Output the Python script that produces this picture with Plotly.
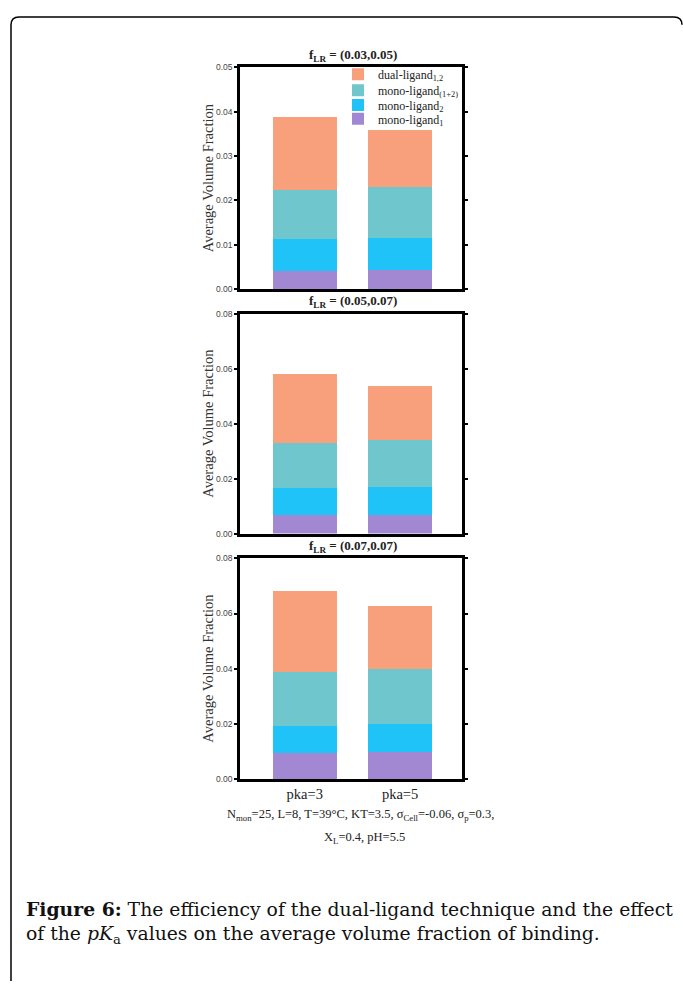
import plotly.graph_objects as go

# Bar categories
categories = ["pka=3", "pka=5"]

# Segment heights of each stacked bar (one list per ligand class, per panel)
panel_titles = [
    "f<sub>LR</sub> = (0.03,0.05)",
    "f<sub>LR</sub> = (0.05,0.07)",
    "f<sub>LR</sub> = (0.07,0.07)",
]
mono1 = [[0.0041, 0.0043], [0.0066, 0.0068], [0.0095, 0.0098]]
mono2 = [[0.0071, 0.0072], [0.0099, 0.0103], [0.0099, 0.0101]]
mono12 = [[0.0111, 0.0115], [0.0166, 0.0170], [0.0193, 0.0200]]
dual = [[0.0166, 0.0129], [0.0251, 0.0197], [0.0293, 0.0229]]

y_max = [0.05, 0.08, 0.08]
y_step = [0.01, 0.02, 0.02]

series_names = [
    "mono-ligand<sub>1</sub>",
    "mono-ligand<sub>2</sub>",
    "mono-ligand<sub>(1+2)</sub>",
    "dual-ligand<sub>1,2</sub>",
]
series_colors = ["#A288D2", "#1FC3F8", "#6FC6CC", "#F7A07B"]
series_data = [mono1, mono2, mono12, dual]

W, H = 683, 986
SERIF = "Liberation Serif, Times New Roman, serif"
CAPTION_SERIF = "DejaVu Serif, Liberation Serif, serif"
SANS = "Liberation Sans, Arial, sans-serif"


def px_x(x):
    return x / W


def px_y(y):
    return 1 - y / H


# Panel geometry in pixels (top, bottom) and shared left/right
panel_px = [(63, 287), (312, 534), (559, 782)]
left_px, right_px = 240, 462

# One single-entry legend per series so the key rows can sit tightly
legend_ids = ["legend4", "legend3", "legend2", "legend"]
legend_rows_px = [115, 101, 86, 70]

fig = go.Figure()

for p in range(3):
    xa = "x" if p == 0 else f"x{p + 1}"
    ya = "y" if p == 0 else f"y{p + 1}"
    for s in range(4):
        fig.add_trace(
            go.Bar(
                x=categories,
                y=series_data[s][p],
                name=series_names[s],
                marker=dict(color=series_colors[s], line=dict(width=0)),
                width=0.67,
                xaxis=xa,
                yaxis=ya,
                showlegend=(p == 0),
                legend=legend_ids[s],
            )
        )

layout = dict(
    width=W,
    height=H,
    margin=dict(l=0, r=0, t=0, b=0),
    paper_bgcolor="white",
    plot_bgcolor="white",
    barmode="stack",
    bargap=0.3,
    showlegend=True,
)

for s in range(4):
    layout[legend_ids[s]] = dict(
        x=px_x(338),
        y=px_y(legend_rows_px[s]),
        xanchor="left",
        yanchor="middle",
        bgcolor="rgba(0,0,0,0)",
        font=dict(family=SERIF, size=12, color="#222"),
        itemwidth=30,
    )

annotations = []
for p in range(3):
    top, bot = panel_px[p]
    xkey = "xaxis" if p == 0 else f"xaxis{p + 1}"
    ykey = "yaxis" if p == 0 else f"yaxis{p + 1}"
    anchor_x = "x" if p == 0 else f"x{p + 1}"
    anchor_y = "y" if p == 0 else f"y{p + 1}"
    layout[xkey] = dict(
        domain=[px_x(left_px), px_x(right_px)],
        anchor=anchor_y,
        range=[-0.68, 1.65],
        showline=True,
        linecolor="black",
        linewidth=2.5,
        mirror=True,
        showgrid=False,
        zeroline=False,
        ticks="",
        showticklabels=(p == 2),
        tickfont=dict(family=SERIF, size=14.5, color="#222"),
        fixedrange=True,
    )
    layout[ykey] = dict(
        domain=[px_y(bot), px_y(top)],
        anchor=anchor_x,
        range=[0, y_max[p]],
        dtick=y_step[p],
        tick0=0,
        tickformat=".2f",
        showline=True,
        linecolor="black",
        linewidth=2.5,
        mirror="ticks",
        showgrid=False,
        zeroline=False,
        ticks="outside",
        ticklen=3,
        tickwidth=1.5,
        tickcolor="black",
        tickfont=dict(family=SANS, size=8.5, color="#444"),
        fixedrange=True,
    )
    # Panel title
    annotations.append(dict(
        text="<b>" + panel_titles[p] + "</b>",
        x=px_x(353), y=px_y(top - 12),
        xref="paper", yref="paper",
        xanchor="center", yanchor="middle",
        showarrow=False,
        font=dict(family=SERIF, size=13, color="#222"),
    ))
    # Y-axis title
    annotations.append(dict(
        text="Average Volume Fraction",
        x=px_x(208), y=px_y((top + bot) / 2),
        xref="paper", yref="paper",
        xanchor="center", yanchor="middle",
        textangle=-90,
        showarrow=False,
        font=dict(family=SERIF, size=14.5, color="#333"),
    ))

# Simulation parameters beneath the panels
annotations.append(dict(
    text="N<sub>mon</sub>=25, L=8, T=39°C, KT=3.5, σ<sub>Cell</sub>=-0.06, σ<sub>p</sub>=0.3,",
    x=px_x(360), y=px_y(818),
    xref="paper", yref="paper",
    xanchor="center", yanchor="middle",
    showarrow=False,
    font=dict(family=SERIF, size=12.5, color="#222"),
))
annotations.append(dict(
    text="X<sub>L</sub>=0.4, pH=5.5",
    x=px_x(364), y=px_y(842),
    xref="paper", yref="paper",
    xanchor="center", yanchor="middle",
    showarrow=False,
    font=dict(family=SERIF, size=12.5, color="#222"),
))

# Figure caption
annotations.append(dict(
    text="<b>Figure 6:</b> The efficiency of the dual-ligand technique and the effect"
         "<br>of the <i>pK</i><sub>a</sub> values on the average volume fraction of binding.",
    x=px_x(24), y=px_y(900),
    xref="paper", yref="paper",
    xanchor="left", yanchor="top",
    align="left",
    showarrow=False,
    font=dict(family=CAPTION_SERIF, size=18.8, color="#111"),
))

layout["annotations"] = annotations

# Outer frame with rounded top corners, open at the bottom
r = 8
frame = (
    f"M {px_x(11)},{px_y(H)} L {px_x(11)},{px_y(12 + r)} "
    f"Q {px_x(11)},{px_y(12)} {px_x(11 + r)},{px_y(12)} "
    f"L {px_x(682 - r)},{px_y(12)} "
    f"Q {px_x(682)},{px_y(12)} {px_x(682)},{px_y(12 + r)}"
)
layout["shapes"] = [dict(
    type="path", path=frame, xref="paper", yref="paper",
    line=dict(color="black", width=1.5),
)]

fig.update_layout(**layout)
fig.write_html("out.html")
